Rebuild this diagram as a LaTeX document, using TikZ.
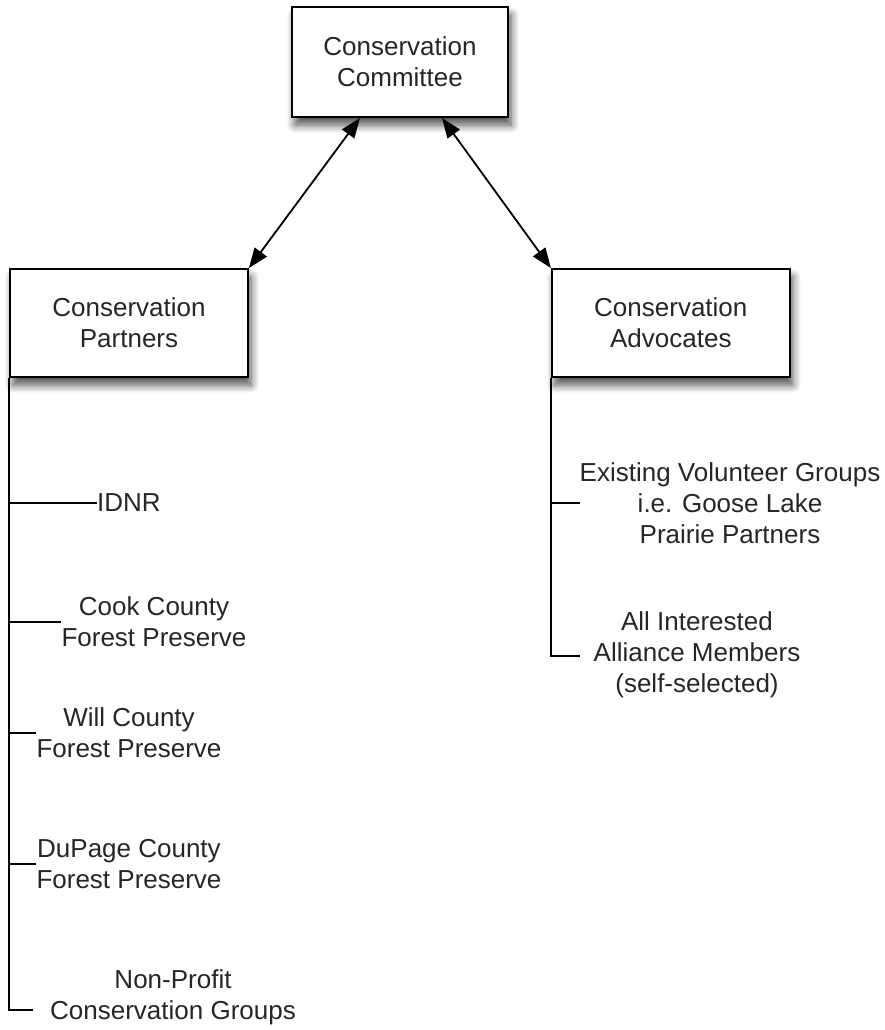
\documentclass[tikz,border=0pt]{standalone}
\usepackage{fontspec}
\setmainfont{Liberation Sans}
\usetikzlibrary{positioning, arrows.meta, shadows.blur}

\definecolor{inkgray}{RGB}{38,38,38}

\begin{document}
\begin{tikzpicture}[
    x=1pt, y=-1pt,
    font=\fontsize{26}{31}\selectfont,
    box/.style={draw, rectangle, line width=1.8pt, fill=white, inner sep=0pt, minimum width=238pt, minimum height=108pt, align=center, text=inkgray, blur shadow={shadow xshift=3pt, shadow yshift=-8pt, shadow blur radius=8pt, shadow blur steps=8, shadow opacity=70}},
    item/.style={align=center, inner sep=0pt, text=inkgray},
    arrow/.style={<->, >={Triangle[length=20pt,width=15pt]}, line width=1.8pt},
    branch/.style={line width=1.8pt}
]
\useasboundingbox (0,0) rectangle (885,1030);

% Committee and its two groups
\node[box, minimum width=216pt, minimum height=110pt] (committee) at (400,62) {Conservation\\Committee};
\node[box] (partners) at (129,323) {Conservation\\Partners};
\node[box, right=302pt of partners] (advocates) {Conservation\\Advocates};

% Partner list (left)
\node[item, anchor=west] (idnr) at (97,503) {IDNR};
\node[item] (cook) at (154,622) {Cook County\\Forest Preserve};
\node[item] (will) at (129,733) {Will County\\Forest Preserve};
\node[item] (dupage) at (129,864) {DuPage County\\Forest Preserve};
\node[item] (nonprofit) at (173,997) {Non-Profit\\Conservation Groups};
\coordinate (npend) at (33,1010);

% Advocate list (right)
\node[item] (existing) at (730,503) {Existing Volunteer Groups\\i.e. Goose Lake\\Prairie Partners};
\node[item] (interested) at (697,655) {All Interested\\Alliance Members\\(self-selected)};
\coordinate (intend) at (580,656);

% Edges
\draw[arrow] ([xshift=-40pt]committee.south) -- (partners.north east);
\draw[arrow] ([xshift=42pt]committee.south) -- (advocates.north west);

\draw[branch] (partners.south west) |- (npend);
\draw[branch] (partners.south west |- idnr.west) -- (idnr.west);
\draw[branch] (partners.south west |- cook.west) -- (cook.west);
\draw[branch] (partners.south west |- will.west) -- (will.west);
\draw[branch] (partners.south west |- dupage.west) -- (dupage.west);

\draw[branch] (advocates.south west) |- (intend);
\draw[branch] (advocates.south west |- existing.west) -- (existing.west);

\end{tikzpicture}
\end{document}
